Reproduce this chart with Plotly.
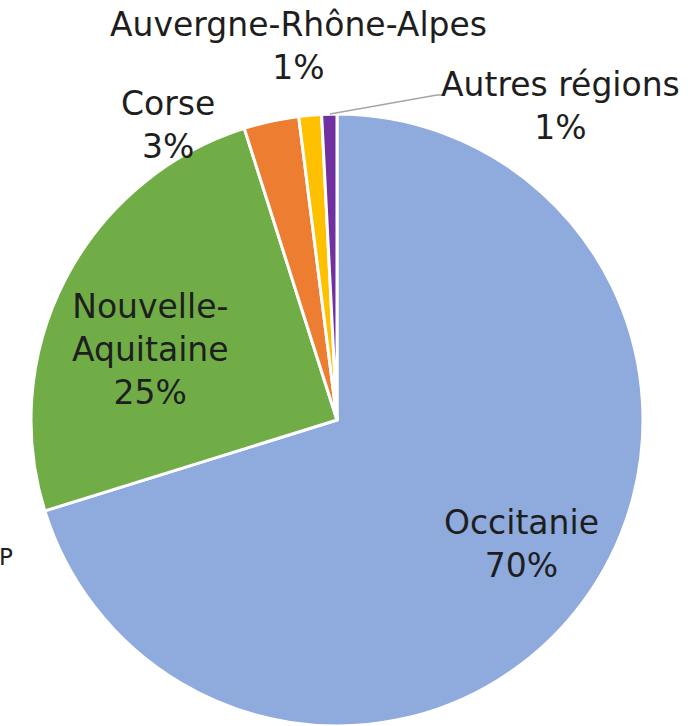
import plotly.graph_objects as go

# ---------------------------------------------------------------------------
# Data
# ---------------------------------------------------------------------------

regions = ["Occitanie", "Nouvelle-Aquitaine", "Corse", "Auvergne-Rhône-Alpes", "Autres régions"]
shares = [70.2, 24.9, 2.9, 1.2, 0.8]
pct_labels = ["70%", "25%", "3%", "1%", "1%"]
colours = ["#8FAADC", "#70AD47", "#ED7D31", "#FFC000", "#7030A0"]

# label text as shown on the chart (name, percent)
label_text = {
    "Occitanie": "Occitanie",
    "Nouvelle-Aquitaine": "Nouvelle-<br>Aquitaine",
    "Corse": "Corse",
    "Auvergne-Rhône-Alpes": "Auvergne-Rhône-Alpes",
    "Autres régions": "Autres régions",
}

W, H = 697, 726
FONT = "DejaVu Sans"
TXT = "#1E1E1E"

fig = go.Figure(go.Pie(
    labels=regions,
    values=shares,
    sort=False,
    direction="clockwise",
    rotation=0,
    marker=dict(colors=colours, line=dict(color="white", width=3)),
    textinfo="none",
    hoverinfo="label+percent",
    showlegend=False,
    domain=dict(x=[31 / W, 643 / W], y=[0, 612 / H]),
))

# label anchor positions in pixels (x, y from top)
label_pos = {
    "Occitanie": (521, 544),
    "Nouvelle-Aquitaine": (150, 349),
    "Corse": (168, 125),
    "Auvergne-Rhône-Alpes": (298, 46),
    "Autres régions": (560, 106),
}

for name, pct in zip(regions, pct_labels):
    x, y = label_pos[name]
    fig.add_annotation(
        x=x / W, y=1 - y / H, xref="paper", yref="paper",
        text=f"{label_text[name]}<br>{pct}",
        showarrow=False, xanchor="center", yanchor="middle",
        font=dict(family=FONT, size=33, color=TXT),
    )

# leader line for the small "Autres régions" slice
fig.add_shape(
    type="path", xref="paper", yref="paper",
    path=f"M {330 / W},{1 - 114 / H} L {437 / W},{1 - 95 / H} L {442 / W},{1 - 95 / H}",
    line=dict(color="#A6A6A6", width=1.5),
)

# stray letter on the left edge
fig.add_annotation(
    x=0, y=1 - 557 / H, xref="paper", yref="paper",
    text="P", showarrow=False, xanchor="left", yanchor="middle", xshift=-3,
    font=dict(family=FONT, size=23, color=TXT),
)

fig.update_layout(
    width=W, height=H,
    margin=dict(l=0, r=0, t=0, b=0),
    paper_bgcolor="white",
    plot_bgcolor="white",
)

fig.write_html(
    "out.html",
    config={"displayModeBar": False},
    post_script="document.body.style.margin='0';",
)
